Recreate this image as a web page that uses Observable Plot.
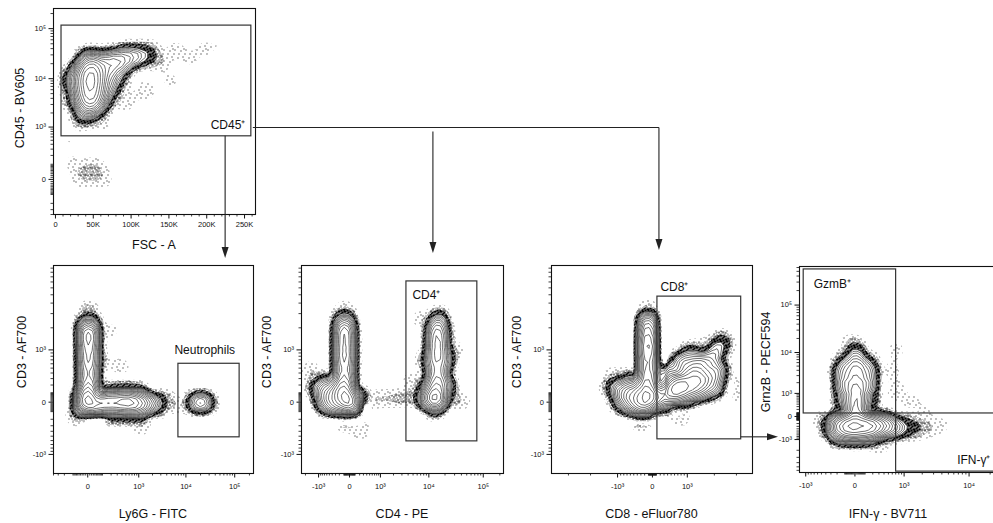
<!DOCTYPE html>
<html><head><meta charset="utf-8">
<script src="https://cdn.jsdelivr.net/npm/d3@7"></script>
<script src="https://cdn.jsdelivr.net/npm/@observablehq/plot@0.6"></script>
<style>
body{margin:0;background:#fff;}
#fig{position:relative;width:993px;height:523px;overflow:hidden;background:#fff;font-family:"Liberation Sans",Arial,Helvetica,sans-serif;}
.ttl{position:absolute;font-size:12.5px;white-space:nowrap;color:#111;line-height:1;}
</style></head><body>
<svg width="0" height="0" style="position:absolute">
 <defs>
  <pattern id="spk1" width="11" height="11" patternUnits="userSpaceOnUse">
   <rect x="1" y="2" width="1" height="1"/><rect x="6" y="1" width="1" height="1"/><rect x="9" y="5" width="1" height="1"/><rect x="4" y="6" width="1" height="1"/><rect x="2" y="9" width="1" height="1"/><rect x="8" y="9" width="1" height="1"/><rect x="7" y="4" width="1" height="1"/>
  </pattern>
  <pattern id="spk2" width="7" height="7" patternUnits="userSpaceOnUse">
   <rect x="0" y="0" width="1" height="1"/><rect x="3" y="0" width="1" height="1"/><rect x="5" y="1" width="1" height="1"/><rect x="1" y="2" width="1" height="1"/><rect x="4" y="3" width="1" height="1"/><rect x="6" y="3" width="1" height="1"/><rect x="2" y="4" width="1" height="1"/><rect x="0" y="5" width="1" height="1"/><rect x="5" y="5" width="1" height="1"/><rect x="3" y="6" width="1" height="1"/><rect x="6" y="6" width="1" height="1"/><rect x="1" y="6" width="1" height="1"/>
  </pattern>
  <pattern id="spk3" width="6" height="6" patternUnits="userSpaceOnUse">
   <rect x="0" y="0" width="6" height="6" fill="#000"/>
   <rect x="1" y="0" width="1" height="1" fill="#fff"/><rect x="4" y="1" width="1" height="1" fill="#fff"/><rect x="2" y="2" width="1" height="1" fill="#fff"/><rect x="5" y="3" width="1" height="1" fill="#fff"/><rect x="0" y="4" width="1" height="1" fill="#fff"/><rect x="3" y="5" width="1" height="1" fill="#fff"/><rect x="4" y="4" width="1" height="1" fill="#fff"/><rect x="1" y="3" width="1" height="1" fill="#fff"/>
  </pattern>
 </defs>
</svg>
<div id="fig"></div>
<script>
// ===================== DATA =====================
// Panel 1: FSC-A vs CD45-BV605 (population anchors with relative weights)
const p1FSC = [46300,46300,46300,46300,46300,46300,46300, 33100,33100,33100, 58200,58200,58200,58200, 70100,80700,91200,101800,112400,123000, 70100,80700,91200, 70100,80700, 41000,22500, 138800,158700,178500,198000,220800,152000,119000,92600,59500,33100,22500, 43600,33100,54200,19800,17200,66100,48900,30400,59500];
const p1CD45 = [21100,15300,11100,8000,5780,4160,3000, 13300,7640,4370, 17600,10100,5780,3620, 21100,24200,26600,27800,29100,30500, 12100,16000,18400, 6350,9200, 2250,9200, 23100,36700,25400,40200,46200,9200,5780,3620,1530,1530,3620, 37,4,14,138,495,-5,89,65,65];
const p1W = [2.5,3,3.5,4,3.5,3,2.2, 1.5,1.8,1.5, 1.8,2,1.6,1.0, 1.3,1.0,0.8,0.6,0.4,0.25, 0.9,0.6,0.4, 0.5,0.3, 1.2,0.5, 0.06,0.04,0.03,0.03,0.02,0.03,0.05,0.06,0.08,0.08,0.1, 0.05,0.04,0.04,0.02,0.02,0.025,0.03,0.03,0.025];

// Panel 2: Ly6G-FITC vs CD3-AF700
const p2Ly6G = [4,4,4,4,4,4,4,4,4,4, 4,4,-28,44,-28, 100,179,287,438,647,938,1342,1905,2686, 192,491,988,192,491,988, 16520,24100,19960, 4,-40,82,367,192,3770,6090,1095,-77];
const p2CD3 = [2080,1690,1360,1086,853,659,493,354,238,140, 57,-12,-22,-32,57, -3,-3,-3,-3,-3,-12,-12,-12,-22, 79,91,68,-98,-98,-86, -3,-3,-3, 3100,1850,684,560,1850,36,-32,-295,-148];
const p2W = [1.4,2.0,2.2,1.9,1.6,1.4,1.3,1.3,1.4,1.7, 2.6,3.0,1.4,2.0,0.8, 2.0,2.0,2.2,2.4,2.2,1.8,1.2,0.6,0.2, 0.5,0.7,0.5,0.5,0.7,0.5, 0.5,0.5,0.45, 0.1,0.05,0.05,0.03,0.02,0.06,0.04,0.05,0.06];

// Panel 3: CD4-PE vs CD3-AF700
const p3CD4 = [-88,-88,-88,-88,-88,-88,-88,-88,-88,-88,-88, -51,16, -221,-424,-697,-1063,-247,-495,-791,-330,-611,108, 273,611,1188,2100,3540,5830, 12770,9430,17220,12770, 14520,14520,14520,14520,14520,14520,14520,14520,14520,14520, 15150, 10290,21280,21280,9840, -88,6950,31160,38460,4450,-1552,-69,221];
const p3CD3 = [2340,1910,1540,1240,981,765,584,431,304,194,103, 26,-32, 57,79,115,166,-32,-12,16,180,238,47, 16,26,36,36,47,57, 57,36,36,-22, 153,253,373,515,684,884,1120,1410,1740,2140, 2620, 684,684,194,194, 3100,2620,981,16,269,451,-217,-384];
const p3W = [0.9,1.3,1.6,1.7,1.6,1.5,1.4,1.4,1.6,1.9,2.4, 3.2,2.0, 1.6,1.0,0.6,0.3,1.5,0.9,0.45,0.6,0.3,1.0, 0.06,0.04,0.035,0.035,0.045,0.07, 2.0,1.2,1.1,1.0, 1.2,1.0,0.9,0.9,0.95,1.0,1.1,1.2,1.0,0.6, 0.3, 0.3,0.3,0.4,0.4, 0.08,0.03,0.04,0.05,0.03,0.04,0.1,0.04];

// Panel 4: CD8-eFluor780 vs CD3-AF700
const p4CD8 = [-126,-126,-126,-126,-126,-126,-126,-126,-126,-126,-126, -75,-179, -312,-509,-718,-939,-1173,-367,-597,-843,-452,-687,75, 538,749,971,367,1207,1458,657,1038,1458,1881,657,1038,1385,1683,1922,2128,2300,367,285, 1458,1881,1278,1104,2046,2257,423,780, 1104,1645,2046,1458,939, -126,2710,2478,1458,2950,-1173,-312,780];
const p4CD3 = [2480,2020,1640,1320,1051,824,632,472,337,223,127, 36,-32, 68,79,103,127,166,-22,-12,7,194,253,57, 140,166,180,91,194,223,57,79,103,140,269,319,411,560,765,1016,1320,304,-3, 304,354,560,824,194,451,451,632, 411,269,411,684,560, 3275,269,1161,1161,68,354,-217,-148];
const p4W = [0.7,1.1,1.4,1.6,1.6,1.5,1.4,1.3,1.4,1.7,2.2, 3.0,1.8, 1.8,1.3,0.8,0.45,0.2,1.5,1.0,0.5,0.6,0.3,0.8, 1.6,1.7,1.5,1.3,1.2,0.9,1.1,0.9,0.6,0.35,1.0,0.9,0.7,0.55,0.45,0.3,0.18,0.5,0.6, 0.7,0.5,0.5,0.4,0.4,0.3,0.35,0.4, 0.6,0.55,0.35,0.4,0.5, 0.06,0.03,0.03,0.03,0.02,0.03,0.08,0.05];

// Panel 5: IFN-γ-BV711 vs GrnzB-PECF594
const p5IFN = [-255,-152,-69,-3,61,141,242,369,528,759,1101,1620,2510, -152,-3,141, -152,-3,141,369, 5,5,5,5,5,5,5,5,5,5, -91,116,-91,116,-91,116, -114,129,-126,141, -114,129, 553,696,696,1289,2253,-39,-522,330,3820];
const p5GzmB = [-344,-344,-344,-344,-344,-344,-344,-344,-344,-344,-344,-344,-344, -678,-678,-678, -105,-105,-105,-105, 77,305,624,1070,1690,2550,3760,5450,7800,11080, 571,571,1690,1690,3970,3970, 1690,1690,3560,3560, 6400,6400, 3970,1220,11080,571,165,16450,-105,-1490,-268];
const p5W = [1.0,1.8,2.6,3.0,2.8,2.3,1.8,1.3,0.9,0.5,0.25,0.12,0.05, 1.0,1.5,1.0, 1.2,2.0,1.6,0.7, 1.5,1.3,1.15,1.0,0.9,0.8,0.65,0.5,0.38,0.22, 0.7,0.7,0.6,0.6,0.45,0.45, 0.55,0.55,0.4,0.4, 0.22,0.22, 0.04,0.05,0.03,0.03,0.02,0.04,0.05,0.04,0.03];

// Gates: [x1, x2, y1, y2]
const gateCD45 = [8000, 259000, 620, 115000];
const gateNeut = [7000, 126000, -525, 600];
const gateCD4 = [3700, 78000, -620, 7100];
const gateCD8 = [126, 3240, -571, 4760];
const gateGzmB = [-1085, 714, 77, 548000];
const gateIFNg = [714, 27000, -6400, 77];
const gateNames = ["CD45⁺", "Neutrophils", "CD4⁺", "CD8⁺", "GzmB⁺", "IFN-γ⁺"];

// Axis tick values and labels
const fscTicks = [0, 50000, 100000, 150000, 200000, 250000];
const fscTickLabels = ["0", "50K", "100K", "150K", "200K", "250K"];
const logTicks = [-1000, 0, 1000, 10000, 100000];
const logTickLabels = ["-10³", "0", "10³", "10⁴", "10⁵"];

// Axis titles
const xTitles = ["FSC - A", "Ly6G - FITC", "CD4 - PE", "CD8 - eFluor780", "IFN-γ - BV711"];
const yTitles = ["CD45 - BV605", "CD3 - AF700", "CD3 - AF700", "CD3 - AF700", "GrnzB - PECF594"];

// Contour levels (fractions of peak density) and speckle levels
const lineLevels = [0.05, 0.0625, 0.078, 0.098, 0.122, 0.153, 0.19, 0.24, 0.3, 0.37, 0.46, 0.58, 0.72, 0.9];
const speckleLevels = [0.002, 0.0065, 0.016];

// ===================== RENDERING =====================
const FIG = document.getElementById("fig");
const FONT = '"Liberation Sans", Arial, Helvetica, sans-serif';

function logLabel(v) { const i = logTicks.indexOf(v); return i >= 0 ? logTickLabels[i] : ""; }
function minorLog(domain, majors) {
  const out = [];
  for (let e = 1; e <= 5; e++) for (let m = 1; m <= 9; m++) for (const s of [1, -1]) {
    const t = s * m * Math.pow(10, e);
    if (t >= domain[0] && t <= domain[1] && !majors.includes(t)) out.push(t);
  }
  return out;
}
function gateRect(g) { return {x1: g[0], x2: g[1], y1: g[2], y2: g[3]}; }

function panel(cfg) {
  const {left, top, width, height, m, xs, ys, xv, yv, wv, bw} = cfg;
  const pts = xv.map((x, i) => ({x, y: yv[i], w: wv[i]}));
  const mk = (s, r) => s.type === "linear" ? d3.scaleLinear(s.domain, r) : d3.scaleSymlog(s.domain, r).constant(s.constant);
  const X = mk(xs, [m.left, width - m.right]);
  const Y = mk(ys, [height - m.bottom, m.top]);
  const dens = d3.contourDensity().x(d => X(d.x)).y(d => Y(d.y)).weight(d => d.w).size([width, height]).bandwidth(bw);
  let max = 1;
  if (dens.contours) max = dens.contours(pts).max;
  const T = f => [f * max * 100];
  const common = {x: "x", y: "y", weight: "w", bandwidth: bw, clip: true};
  const marks = [
    Plot.density(pts, {...common, thresholds: T(speckleLevels[0]), fill: "url(#spk1)", stroke: "none"}),
    Plot.density(pts, {...common, thresholds: T(speckleLevels[1]), fill: "url(#spk2)", stroke: "none"}),
    Plot.density(pts, {...common, thresholds: T(speckleLevels[2]), fill: "url(#spk3)", stroke: "none"}),
    Plot.density(pts, {...common, thresholds: T(lineLevels[0]), fill: "white", stroke: "none"}),
    Plot.density(pts, {...common, thresholds: lineLevels.map(f => f * max * 100), stroke: "#111", strokeWidth: 0.6, fill: "none"}),
    Plot.rect(cfg.gates.map(gateRect), {x1: "x1", x2: "x2", y1: "y1", y2: "y2", fill: "none", stroke: "#333", strokeWidth: 1.2}),
    ...cfg.labels.map(L => Plot.text([L], {x: "x", y: "y", text: "t", textAnchor: L.anchor, dx: L.dx, dy: L.dy, fontSize: 12, fill: "#111", fontFamily: FONT})),
    Plot.frame({stroke: "#111", strokeWidth: 1.1}),
    Plot.axisX({ticks: cfg.xMinor, tickSize: 2.5, tickFormat: () => "", label: null, strokeWidth: 0.8}),
    Plot.axisX({ticks: cfg.xMajor, tickSize: 4.5, tickPadding: cfg.xPad, tickFormat: cfg.xFmt, label: null, fontSize: 7.5}),
    Plot.axisY({ticks: cfg.yMinor, tickSize: 2.5, tickFormat: () => "", label: null, strokeWidth: 0.8}),
    Plot.axisY({ticks: cfg.yMajor, tickSize: 4.5, tickPadding: 3, tickFormat: cfg.yFmt, label: null, fontSize: 7.5})
  ];
  const svg = Plot.plot({
    width, height,
    marginLeft: m.left, marginRight: m.right, marginTop: m.top, marginBottom: m.bottom,
    x: {...xs, label: null},
    y: {...ys, label: null},
    style: {fontFamily: FONT, fontSize: "7.5px", background: "transparent", color: "#111", overflow: "visible"},
    marks
  });
  svg.style.position = "absolute";
  svg.style.left = left + "px";
  svg.style.top = top + "px";
  FIG.appendChild(svg);
  return {X: v => X(v) + left, Y: v => Y(v) + top, frameLeft: left + m.left, frameRight: left + width - m.right, frameTop: top + m.top, frameBottom: top + height - m.bottom};
}

// Panel 1
const yP1 = {type: "symlog", constant: 100, domain: [-400, 252000]};
const P1 = panel({
  left: 0, top: 0, width: 262, height: 232, m: {left: 53, right: 7, top: 8, bottom: 18},
  xs: {type: "linear", domain: [-2600, 264500]}, ys: yP1,
  xv: p1FSC, yv: p1CD45, wv: p1W, bw: 4.8,
  gates: [gateCD45],
  labels: [{x: gateCD45[1], y: gateCD45[2], t: gateNames[0], anchor: "end", dx: -6, dy: -11}],
  xMajor: fscTicks, xFmt: d => fscTickLabels[fscTicks.indexOf(d)], xPad: 3,
  xMinor: d3.range(10000, 260001, 10000).filter(v => !fscTicks.includes(v)),
  yMajor: [0, 1000, 10000, 100000], yFmt: logLabel,
  yMinor: minorLog(yP1.domain, [0, 1000, 10000, 100000])
});

const yCD3 = {type: "symlog", constant: 380, domain: [-1830, 10700]};
const yCD3Major = [-1000, 0, 1000];

// Panel 2
const xP2 = {type: "symlog", constant: 100, domain: [-400, 242000]};
const P2 = panel({
  left: 0, top: 255, width: 260, height: 240, m: {left: 53, right: 7, top: 10, bottom: 22},
  xs: xP2, ys: yCD3, xv: p2Ly6G, yv: p2CD3, wv: p2W, bw: 3.9,
  gates: [gateNeut],
  labels: [{x: gateNeut[0], y: gateNeut[3], t: gateNames[1], anchor: "start", dx: -4, dy: -14}],
  xMajor: [0, 1000, 10000, 100000], xFmt: logLabel, xPad: 6,
  xMinor: minorLog(xP2.domain, [0, 1000, 10000, 100000]),
  yMajor: yCD3Major, yFmt: logLabel, yMinor: minorLog(yCD3.domain, yCD3Major)
});

// Panel 3
const xP3 = {type: "symlog", constant: 380, domain: [-2430, 233000]};
const P3 = panel({
  left: 248, top: 255, width: 260, height: 240, m: {left: 53, right: 5, top: 10, bottom: 22},
  xs: xP3, ys: yCD3, xv: p3CD4, yv: p3CD3, wv: p3W, bw: 3.9,
  gates: [gateCD4],
  labels: [{x: gateCD4[0], y: gateCD4[3], t: gateNames[2], anchor: "start", dx: 6, dy: 14}],
  xMajor: [-1000, 0, 1000, 10000, 100000], xFmt: logLabel, xPad: 6,
  xMinor: minorLog(xP3.domain, [-1000, 0, 1000, 10000, 100000]),
  yMajor: yCD3Major, yFmt: logLabel, yMinor: minorLog(yCD3.domain, yCD3Major)
});

// Panel 4
const xP4 = {type: "symlog", constant: 3000, domain: [-3900, 3850]};
const P4 = panel({
  left: 498, top: 255, width: 260, height: 240, m: {left: 53, right: 6, top: 10, bottom: 22},
  xs: xP4, ys: yCD3, xv: p4CD8, yv: p4CD3, wv: p4W, bw: 4.3,
  gates: [gateCD8],
  labels: [{x: gateCD8[0], y: gateCD8[3], t: gateNames[3], anchor: "start", dx: 3, dy: -9}],
  xMajor: [-1000, 0, 1000], xFmt: logLabel, xPad: 6,
  xMinor: minorLog(xP4.domain, [-1000, 0, 1000]),
  yMajor: yCD3Major, yFmt: logLabel, yMinor: minorLog(yCD3.domain, yCD3Major)
});

// Panel 5
const xP5 = {type: "symlog", constant: 256, domain: [-1280, 29000]};
const yP5 = {type: "symlog", constant: 500, domain: [-6700, 630000]};
const P5 = panel({
  left: 746, top: 255, width: 260, height: 240, m: {left: 53, right: 5, top: 11, bottom: 23},
  xs: xP5, ys: yP5, xv: p5IFN, yv: p5GzmB, wv: p5W, bw: 4.3,
  gates: [gateGzmB, gateIFNg],
  labels: [
    {x: gateGzmB[0], y: gateGzmB[3], t: gateNames[4], anchor: "start", dx: 10, dy: 15},
    {x: gateIFNg[0], y: gateIFNg[2], t: gateNames[5], anchor: "start", dx: 61, dy: -11}
  ],
  xMajor: [-1000, 0, 1000, 10000], xFmt: logLabel, xPad: 6,
  xMinor: minorLog(xP5.domain, [-1000, 0, 1000, 10000]),
  yMajor: [-1000, 0, 1000, 10000, 100000], yFmt: logLabel,
  yMinor: minorLog(yP5.domain, [-1000, 0, 1000, 10000, 100000])
});

// Axis titles
function title(text, cx, cy, rot) {
  const d = document.createElement("div");
  d.className = "ttl";
  d.textContent = text;
  d.style.left = cx + "px";
  d.style.top = cy + "px";
  d.style.transform = "translate(-50%,-50%)" + (rot ? " rotate(-90deg)" : "");
  FIG.appendChild(d);
}
const panels = [P1, P2, P3, P4, P5];
const xTitleY = [245, 514, 514, 514, 514];
const xTitleX = [(P1.frameLeft + P1.frameRight) / 2, (P2.frameLeft + P2.frameRight) / 2, (P3.frameLeft + P3.frameRight) / 2, (P4.frameLeft + P4.frameRight) / 2, 888];
const yTitleX = [20, 22, 267, 517, 766];
const yTitleY = [108, 352, 352, 352, 362];
panels.forEach((p, i) => { title(xTitles[i], xTitleX[i], xTitleY[i], false); title(yTitles[i], yTitleX[i], yTitleY[i], true); });

// Gating connectors
const ov = d3.select(FIG).append("svg").attr("width", 993).attr("height", 523)
  .style("position", "absolute").style("left", "0px").style("top", "0px");
const lineCol = "#222";
function seg(x1, y1, x2, y2) { ov.append("line").attr("x1", x1).attr("y1", y1).attr("x2", x2).attr("y2", y2).attr("stroke", lineCol).attr("stroke-width", 1.1); }
function headDown(x, tip) { ov.append("path").attr("d", `M${x - 3.5},${tip - 11}L${x + 3.5},${tip - 11}L${x},${tip}Z`).attr("fill", lineCol); }
function headRight(tip, y) { ov.append("path").attr("d", `M${tip - 11},${y - 3.5}L${tip - 11},${y + 3.5}L${tip},${y}Z`).attr("fill", lineCol); }

const gx = P1.X(225000), gBottom = P1.Y(gateCD45[2]);
const tip2 = P2.frameTop - 7;
seg(gx, gBottom, gx, tip2 - 10); headDown(gx, tip2);
const hy = P1.Y(1000) + 1;
const bx3 = P3.frameLeft + 0.653 * (P3.frameRight - P3.frameLeft);
const bx4 = P4.frameLeft + 0.537 * (P4.frameRight - P4.frameLeft);
seg(P1.X(gateCD45[1]) + 2, hy, bx4, hy);
seg(bx3, hy + 4, bx3, P3.frameTop - 22); headDown(bx3, P3.frameTop - 12);
seg(bx4, hy, bx4, P4.frameTop - 26); headDown(bx4, P4.frameTop - 15);
const ay = P4.Y(gateCD8[2]) - 2;
const tipX = P5.frameLeft - 21;
seg(P4.X(gateCD8[1]), ay, tipX - 10, ay); headRight(tipX, ay);
</script>
</body></html>
